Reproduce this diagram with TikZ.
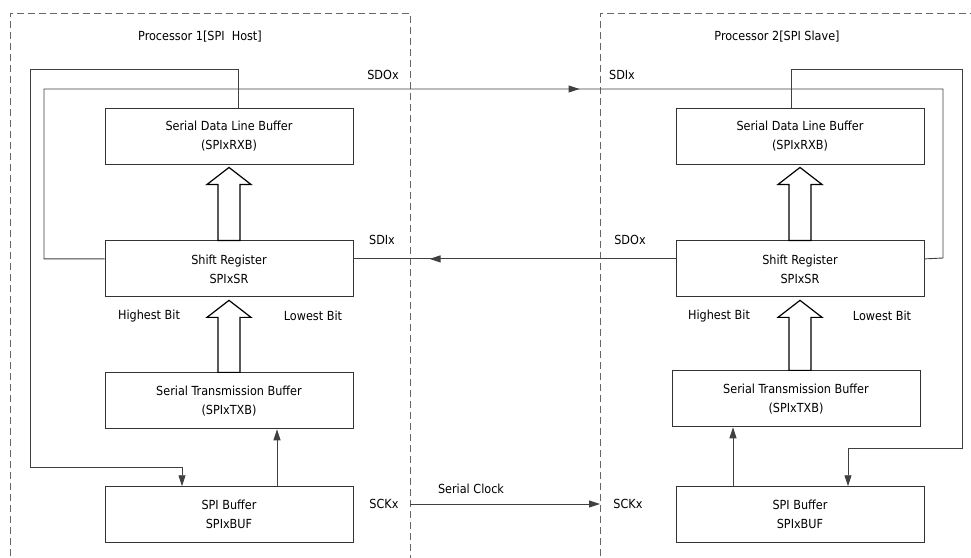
\documentclass[tikz,border=0pt]{standalone}
\usepackage{fontspec}
\setmainfont{DejaVu Sans Condensed}
\usepackage{tikz}
\usetikzlibrary{arrows.meta,positioning,calc,decorations.markings}
\tikzset{
  regbox/.style={rectangle,
    draw=black!80,fill=white,line width=0.9pt,
    minimum width=248pt,minimum height=56pt,
    align=center,inner sep=2pt},
  procframe/.style={draw=black!60,line width=0.8pt,
    dash pattern=on 7pt off 4pt},
  wire/.style={draw=black!75,line width=0.9pt},
  tipwire/.style={wire,-{Triangle[length=11pt,width=7pt]}},
  fatarrow/.style={draw=black,line width=1.2pt,fill=white,line join=miter},
  midtip/.style={postaction={decorate},decoration={markings,
    mark=at position #1 with {\arrow{Triangle[length=11pt,width=7pt]}}}},
  lbl/.style={inner sep=0pt},
}
\newcommand{\bigarrow}[2]{%
  \draw[fatarrow] ($(#2.south |- #1.north)+(-11,0)$) -- ($(#2.south)+(-11,20)$)
    -- ($(#2.south)+(-22,20)$) -- ($(#2.south)+(0,3)$) -- ($(#2.south)+(22,20)$)
    -- ($(#2.south)+(11,20)$) -- ($(#2.south |- #1.north)+(11,0)$) -- cycle;}

\begin{document}
\begin{tikzpicture}[x=1pt,y=-1pt,every node/.style={font=\fontsize{12.5}{19}\selectfont}]
  \clip (0,0) rectangle (971,557);
  \fill[white] (0,0) rectangle (971,557);
  % processor frames
  \draw[procframe] (10,600) -- (10,13) -- (410,13) -- (410,600);
  \draw[procframe] (600,600) -- (600,13) -- (1000,13);
  \node (host) [lbl] at (200,37) {Processor 1[SPI\ \ Host]};
  \node (slave) [lbl] at (777,37) {Processor 2[SPI Slave]};
  % host side
  \node (rxb1) [regbox] at (229,136) {Serial Data Line Buffer\\ (SPIxRXB)};
  \node (sr1) [regbox,below=76pt of rxb1] {Shift Register\\ SPIxSR};
  \node (txb1) [regbox,below=75pt of sr1] {Serial Transmission Buffer\\ (SPIxTXB)};
  \node (buf1) [regbox,below=57pt of txb1] {SPI Buffer\\ SPIxBUF};
  % slave side
  \node (rxb2) [regbox] at (800,136) {Serial Data Line Buffer\\ (SPIxRXB)};
  \node (sr2) [regbox,below=76pt of rxb2] {Shift Register\\ SPIxSR};
  \node (txb2) [regbox,below=73pt of sr2,xshift=-4pt] {Serial Transmission Buffer\\ (SPIxTXB)};
  \node (buf2) [regbox,below=59pt of txb2,xshift=4pt] {SPI Buffer\\ SPIxBUF};
  % bit labels
  \node (hi1) [lbl] at (149,316) {Highest Bit};
  \node (lo1) [lbl] at (313,316) {Lowest Bit};
  \node (hi2) [lbl] at (719,316) {Highest Bit};
  \node (lo2) [lbl] at (882,316) {Lowest Bit};
  % pin labels
  \node (sdo1) [lbl] at (383,75) {SDOx};
  \node (sdi1) [lbl] at (382,240) {SDIx};
  \node (sck1) [lbl] at (384,504) {SCKx};
  \node (sdi2) [lbl] at (622,75) {SDIx};
  \node (sdo2) [lbl] at (630,240) {SDOx};
  \node (sck2) [lbl] at (628,504) {SCKx};
  \node (clk) [lbl] at (471,489) {Serial Clock};
  \coordinate (clkout) at (410,504);
  \coordinate (clkin) at (600,504);
  % wide data arrows
  \bigarrow{sr1}{rxb1}
  \bigarrow{txb1}{sr1}
  \bigarrow{sr2}{rxb2}
  \bigarrow{txb2}{sr2}
  % data lines
  \draw[wire,midtip=766pt] ($(sr1.west)+(0,-10)$) -| (44,89) -| (943,258)
    -- ($(sr2.east)+(0,-10)$);
  \draw[wire,midtip=246pt] ($(sr2.west)+(0,-10)$) -- ($(sr1.east)+(0,-10)$);
  \draw[tipwire] ($(rxb1.north)+(9,0)$) -- ++(0,-38) -| (30,467)
    -| ($(buf1.north)+(-47,0)$);
  \draw[tipwire] ($(rxb2.north)+(-9,0)$) -- ++(0,-38) -| (962,448)
    -| ($(buf2.north)+(48,0)$);
  \draw[tipwire] (buf1.north -| 277,0) -- (txb1.south -| 277,0);
  \draw[tipwire] (buf2.north -| 733,0) -- (txb2.south -| 733,0);
  \draw[tipwire] (clkout) -- (clkin);
\end{tikzpicture}
\end{document}
